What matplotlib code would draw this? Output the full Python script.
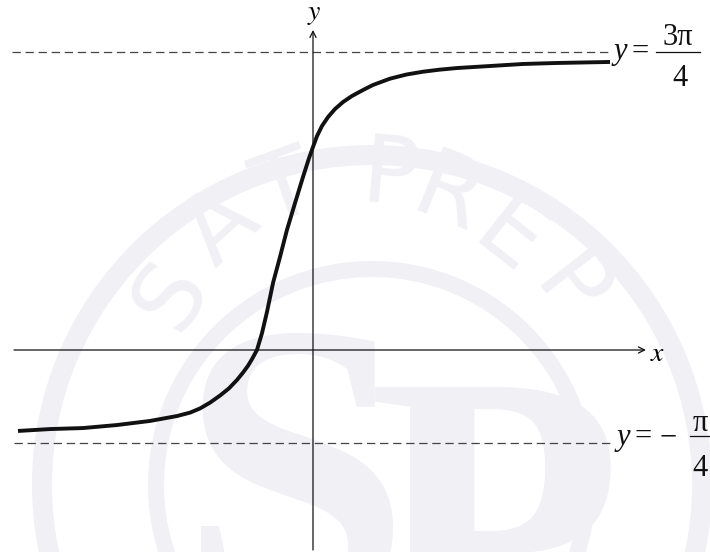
import numpy as np
import matplotlib
matplotlib.use("Agg")
import matplotlib.pyplot as plt
from matplotlib.patches import Wedge

plt.rcParams['mathtext.fontset'] = 'stix'
plt.rcParams['lines.scale_dashes'] = False

# curve (data units)
curve_x = [-2.332, -2.079, -1.818, -1.549, -1.289, -1.075, -0.972, -0.893, -0.814,
           -0.735, -0.664, -0.601, -0.553, -0.514, -0.482, -0.443, -0.403, -0.364,
           -0.316, -0.261, -0.206, -0.142, -0.079, -0.032, 0.0, 0.032, 0.071,
           0.119, 0.174, 0.237, 0.308, 0.395, 0.474, 0.609, 0.740, 0.870, 1.000,
           1.138, 1.399, 1.660, 1.929, 2.348]
curve_y = [-0.640, -0.625, -0.617, -0.593, -0.561, -0.522, -0.495, -0.462, -0.416,
           -0.360, -0.303, -0.237, -0.178, -0.125, -0.072, 0.0, 0.134, 0.300,
           0.530, 0.735, 0.949, 1.162, 1.368, 1.515, 1.605, 1.692, 1.771,
           1.842, 1.905, 1.960, 2.008, 2.055, 2.095, 2.145, 2.178, 2.200, 2.216,
           2.229, 2.245, 2.261, 2.269, 2.277]

# horizontal asymptotes
asym_y = [2.356, -0.735]
asym_x0 = [-2.379, -2.364]
asym_x1 = [2.364, 2.356]

# axes extents
xaxis_range = (-2.364, 2.632)
yaxis_range = (-1.581, 2.530)

W, H = 710, 552
s = 126.5          # pixels per unit
ox, oy = 313, 350  # origin in pixels


def px(x, y):
    return (x - ox) / s, (oy - y) / s


fig = plt.figure(figsize=(W / 100, H / 100), dpi=100)

# faint watermark, in pixel coords (y up)
wm = fig.add_axes([0, 0, 1, 1])
wm.set_xlim(0, W)
wm.set_ylim(0, H)
wm.axis('off')
wcol = '#f0f0f5'
cx, cy = 372, H - 485
wm.add_patch(Wedge((cx, cy), 340, 0, 360, width=20, color=wcol, lw=0))
wm.add_patch(Wedge((cx, cy), 224, 0, 360, width=16, color=wcol, lw=0))
letters = ['S', 'A', 'T', 'P', 'R', 'E', 'P']
let_pos = [(172, 295), (222, 228), (285, 192), (390, 178), (448, 198), (508, 240), (568, 292)]
let_rot = [58, 42, 20, -5, -22, -38, -52]
for ch, (lx, ly), r in zip(letters, let_pos, let_rot):
    wm.text(lx, H - ly, ch, fontsize=68, color=wcol, rotation=r, ha='center', va='center',
            family='DejaVu Sans')
wm.text(295, H - 610, 'S', fontsize=300, color=wcol, ha='center', va='baseline',
        family='Liberation Serif', fontweight='bold')
wm.text(495, H - 660, 'P', fontsize=300, color=wcol, ha='center', va='baseline',
        family='Liberation Serif', fontweight='bold')

# main graph
ax = fig.add_axes([0, 0, 1, 1])
ax.patch.set_alpha(0)
ax.set_xlim(-ox / s, (W - ox) / s)
ax.set_ylim(-(H - oy) / s, oy / s)
ax.axis('off')

ax.annotate('', xy=(xaxis_range[1], 0), xytext=(xaxis_range[0], 0),
            arrowprops=dict(arrowstyle='->', lw=0.9, color='#111111', shrinkA=0, shrinkB=0,
                            mutation_scale=11))
ax.annotate('', xy=(0, yaxis_range[1]), xytext=(0, yaxis_range[0]),
            arrowprops=dict(arrowstyle='->', lw=0.9, color='#111111', shrinkA=0, shrinkB=0,
                            mutation_scale=11))
ax.text(xaxis_range[1] + 0.03, -0.02, r'$x$', fontsize=20, ha='left', va='center')
ax.text(0.01, yaxis_range[1] + 0.02, r'$y$', fontsize=20, ha='center', va='bottom')

for yv, x0, x1 in zip(asym_y, asym_x0, asym_x1):
    ax.plot([x0, x1], [yv, yv], color='#444444', lw=0.9, linestyle=(0, (6, 3.4)))

serif = dict(family='Liberation Serif', fontsize=22, color='#111111')

# label y = 3π/4
ax.text(*px(614, 59), 'y', ha='left', va='baseline', style='italic', **serif)
ax.text(*px(640, 60), '=', ha='center', va='baseline', **serif)
ax.text(*px(678, 45), '3π', ha='center', va='baseline', **serif)
ax.plot(*zip(px(656, 52), px(700, 52)), color='#111111', lw=0.9)
ax.text(*px(680, 86), '4', ha='center', va='baseline', **serif)

# label y = −π/4
ax.text(*px(617, 445), 'y', ha='left', va='baseline', style='italic', **serif)
ax.text(*px(643, 445), '=', ha='center', va='baseline', **serif)
ax.text(*px(668, 445), '−', ha='center', va='baseline', **serif)
ax.text(*px(700, 431), 'π', ha='center', va='baseline', **serif)
ax.plot(*zip(px(690, 436), px(712, 436)), color='#111111', lw=0.9)
ax.text(*px(700, 476), '4', ha='center', va='baseline', **serif)

ax.plot(curve_x, curve_y, color='#111111', lw=2.8, solid_joinstyle='round',
        solid_capstyle='butt')

fig.savefig('out.png', dpi=100)
